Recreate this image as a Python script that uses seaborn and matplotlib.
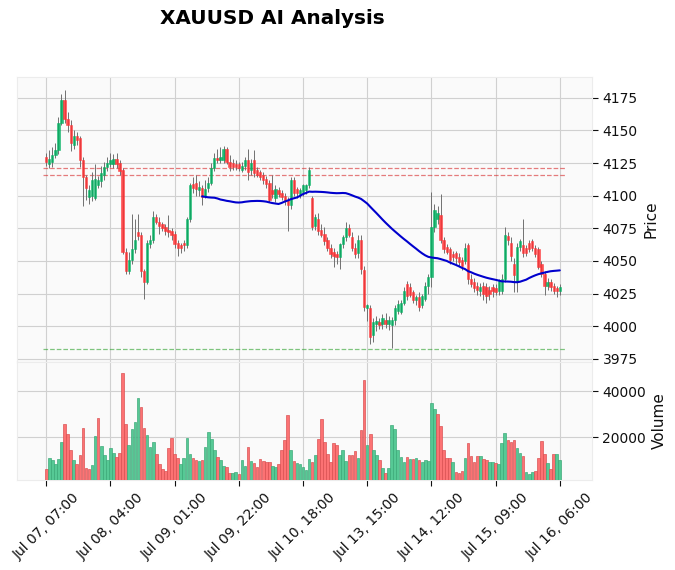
import numpy as np
import pandas as pd
import matplotlib
matplotlib.use("Agg")
import matplotlib.pyplot as plt
from matplotlib.ticker import MultipleLocator
import seaborn as sns

# XAUUSD hourly candles
opens = [4130, 4124, 4126, 4131, 4135, 4156, 4173, 4159, 4154, 4139,
         4146, 4144, 4127, 4114, 4099, 4100, 4098, 4108, 4111, 4116,
         4122, 4124, 4124, 4128, 4125, 4120, 4057, 4042, 4051, 4059,
         4072, 4070, 4042, 4034, 4063, 4066, 4084, 4080, 4078, 4076,
         4074, 4073, 4071, 4064, 4062, 4064, 4062, 4082, 4109, 4110,
         4104, 4106, 4100, 4106, 4110, 4121, 4129, 4127, 4127, 4136,
         4126, 4125, 4124, 4124, 4120, 4123, 4127, 4120, 4127, 4120,
         4118, 4116, 4113, 4110, 4104, 4098, 4104, 4102, 4100, 4097,
         4093, 4112, 4105, 4101, 4103, 4104, 4108, 4098, 4077, 4082,
         4074, 4071, 4066, 4060, 4057, 4055, 4053, 4063, 4068, 4075,
         4068, 4060, 4056, 4066, 4043, 4014, 4014, 3993, 4002, 4003,
         4002, 4005, 4002, 4001, 4005, 4012, 4011, 4018, 4032, 4030,
         4026, 4020, 4022, 4016, 4021, 4031, 4038, 4076, 4082, 4085,
         4066, 4061, 4059, 4055, 4056, 4053, 4051, 4050, 4062, 4036,
         4034, 4031, 4027, 4031, 4030, 4028, 4030, 4029, 4027, 4027,
         4036, 4069, 4064, 4048, 4034, 4061, 4062, 4060, 4064, 4065,
         4060, 4059, 4048, 4040, 4031, 4034, 4031, 4029, 4027]
highs = [4133, 4135, 4137, 4140, 4160, 4178, 4181, 4164, 4158, 4150,
         4149, 4146, 4130, 4116, 4108, 4118, 4124, 4115, 4123, 4126,
         4130, 4133, 4132, 4133, 4127, 4121, 4060, 4057, 4086, 4082,
         4086, 4072, 4044, 4066, 4070, 4088, 4086, 4084, 4080, 4078,
         4085, 4075, 4073, 4066, 4064, 4066, 4084, 4110, 4114, 4116,
         4111, 4108, 4112, 4114, 4125, 4133, 4136, 4137, 4138, 4137,
         4131, 4128, 4127, 4126, 4126, 4130, 4136, 4128, 4135, 4122,
         4120, 4118, 4115, 4112, 4116, 4108, 4107, 4104, 4102, 4099,
         4114, 4114, 4107, 4106, 4109, 4109, 4122, 4100, 4086, 4087,
         4078, 4076, 4068, 4063, 4060, 4058, 4064, 4070, 4080, 4078,
         4072, 4064, 4070, 4070, 4046, 4017, 4016, 4006, 4008, 4006,
         4009, 4010, 4008, 4007, 4016, 4020, 4020, 4030, 4035, 4033,
         4028, 4024, 4026, 4025, 4034, 4040, 4103, 4094, 4092, 4101,
         4068, 4063, 4061, 4058, 4058, 4056, 4053, 4064, 4064, 4040,
         4037, 4034, 4033, 4034, 4033, 4031, 4032, 4032, 4036, 4040,
         4076, 4072, 4068, 4052, 4064, 4067, 4082, 4062, 4066, 4067,
         4062, 4061, 4050, 4042, 4037, 4036, 4033, 4031, 4032]
lows = [4123, 4121, 4122, 4129, 4132, 4154, 4156, 4149, 4134, 4136,
        4139, 4122, 4092, 4097, 4094, 4096, 4097, 4106, 4107, 4112,
        4119, 4122, 4121, 4121, 4116, 4055, 4040, 4040, 4048, 4056,
        4066, 4038, 4021, 4032, 4060, 4064, 4078, 4071, 4073, 4070,
        4068, 4066, 4060, 4054, 4056, 4058, 4060, 4080, 4102, 4100,
        4100, 4093, 4098, 4103, 4108, 4119, 4125, 4125, 4125, 4124,
        4119, 4120, 4120, 4119, 4118, 4120, 4112, 4116, 4114, 4114,
        4112, 4109, 4106, 4095, 4098, 4095, 4099, 4097, 4093, 4073,
        4090, 4100, 4098, 4098, 4100, 4101, 4106, 4074, 4074, 4070,
        4068, 4062, 4058, 4052, 4045, 4048, 4044, 4060, 4065, 4068,
        4058, 4052, 4052, 4040, 4012, 4004, 3986, 3988, 3996, 3998,
        3998, 3999, 3997, 3983, 4001, 4009, 4009, 4016, 4020, 4022,
        4018, 4016, 4012, 4014, 4019, 4025, 4030, 4072, 4078, 4064,
        4056, 4055, 4048, 4050, 4048, 4046, 4043, 4048, 4032, 4030,
        4026, 4024, 4023, 4020, 4018, 4020, 4022, 4024, 4024, 4025,
        4034, 4062, 4050, 4026, 4026, 4058, 4053, 4054, 4057, 4058,
        4053, 4044, 4038, 4024, 4028, 4027, 4025, 4022, 4024]
closes = [4126, 4128, 4131, 4135, 4156, 4173, 4159, 4154, 4140, 4146,
          4143, 4127, 4114, 4106, 4104, 4112, 4113, 4112, 4117, 4122,
          4125, 4127, 4128, 4124, 4119, 4057, 4042, 4051, 4059, 4066,
          4069, 4042, 4034, 4064, 4066, 4084, 4080, 4077, 4075, 4073,
          4072, 4070, 4063, 4060, 4060, 4062, 4082, 4108, 4106, 4105,
          4107, 4099, 4105, 4110, 4121, 4129, 4127, 4130, 4136, 4126,
          4122, 4122, 4122, 4121, 4123, 4127, 4118, 4125, 4117, 4116,
          4114, 4112, 4109, 4097, 4101, 4105, 4101, 4099, 4096, 4093,
          4112, 4102, 4102, 4104, 4108, 4108, 4120, 4076, 4084, 4073,
          4070, 4065, 4060, 4055, 4054, 4053, 4063, 4068, 4075, 4070,
          4060, 4055, 4066, 4044, 4015, 4016, 3992, 4003, 4004, 4001,
          4006, 4002, 4005, 4005, 4014, 4017, 4018, 4027, 4023, 4024,
          4020, 4022, 4015, 4023, 4031, 4038, 4076, 4089, 4087, 4066,
          4059, 4057, 4051, 4053, 4052, 4049, 4046, 4060, 4036, 4032,
          4029, 4028, 4030, 4025, 4023, 4025, 4027, 4026, 4035, 4036,
          4070, 4066, 4054, 4039, 4061, 4065, 4056, 4056, 4059, 4060,
          4055, 4045, 4040, 4031, 4034, 4030, 4027, 4027, 4030]
volumes = [6100, 11000, 9800, 8000, 10500, 17800, 25800, 21200, 14200, 9800,
           8300, 12300, 23800, 6500, 6000, 7800, 20400, 28300, 16000, 12300,
           10100, 15000, 13200, 11300, 13000, 48000, 25800, 16400, 23500, 26600,
           37000, 33000, 24000, 21000, 15500, 17800, 12700, 8000, 6000, 5000,
           15000, 19500, 12700, 11000, 8000, 11000, 19500, 12700, 11000, 9800,
           9500, 9800, 15600, 22000, 19000, 14200, 11300, 9800, 7400, 7100,
           4400, 4400, 4900, 4000, 9800, 7500, 15600, 9700, 8700, 6800,
           10500, 9700, 9100, 9100, 7300, 6800, 8100, 14300, 18800, 29500,
           14300, 9400, 8500, 8300, 6800, 5600, 10400, 9100, 12000, 19300,
           28000, 17800, 12600, 9100, 17200, 16300, 12300, 14300, 9700, 12300,
           12300, 13800, 11000, 23100, 44900, 16400, 21200, 14200, 12300, 9800,
           6500, 4300, 6500, 25300, 23600, 14300, 11300, 9000, 11300, 10500,
           10500, 10900, 10100, 9100, 10100, 9500, 34900, 32400, 30100, 24900,
           14300, 10800, 10800, 9000, 4900, 4300, 5300, 11000, 17200, 11500,
           9000, 11700, 11700, 10500, 10100, 9000, 9000, 8600, 8000, 17500,
           21600, 18500, 17800, 18500, 15200, 13200, 11700, 4700, 4000, 4500,
           5000, 10800, 18100, 12600, 8600, 5900, 12600, 12600, 10100]

tick_pos = [0, 21, 42, 63, 84, 105, 126, 147, 168]
tick_labels = ["Jul 07, 07:00", "Jul 08, 04:00", "Jul 09, 01:00", "Jul 09, 22:00",
               "Jul 10, 18:00", "Jul 13, 15:00", "Jul 14, 12:00", "Jul 15, 09:00",
               "Jul 16, 06:00"]
resistance_levels = [4121.2, 4115.9]
support_levels = [3982.5]
MA_WINDOW = 52

UP, DOWN = "#00b060", "#fe3032"
VOL_UP, VOL_DOWN = "#4dc790", "#fd6b6c"
VOL_UP_EDGE, VOL_DOWN_EDGE = "#3aa877", "#d94f50"
TEXT = "#101010"

sns.set_style("whitegrid", {"axes.facecolor": "#fafafa", "grid.color": "#d0d0d0",
                            "axes.edgecolor": "#ececec"})
plt.rcParams['font.family'] = ['DejaVu Sans']

df = pd.DataFrame({"open": opens, "high": highs, "low": lows,
                   "close": closes, "volume": volumes})
df["idx"] = np.arange(len(df))
df["ma"] = df["close"].rolling(MA_WINDOW).mean()

fig = plt.figure(figsize=(6.75, 5.70), dpi=100)
ax = fig.add_axes([0.0252, 0.3649, 0.8519, 0.5])
axv = fig.add_axes([0.0252, 0.1579, 0.8519, 0.207], sharex=ax)

# candles
up = df["close"] >= df["open"]
body_colors = np.where(up, UP, DOWN)
ax.vlines(df["idx"], df["low"], df["high"], color="#707070", linewidth=0.7, zorder=2)
body_bottom = df[["open", "close"]].min(axis=1)
body_height = (df["close"] - df["open"]).abs().clip(lower=0.3)
ax.bar(df["idx"], body_height, bottom=body_bottom, width=0.75, color=body_colors,
       edgecolor=body_colors, linewidth=0.4, alpha=0.85, zorder=3)

# moving average
sns.lineplot(data=df, x="idx", y="ma", ax=ax, color="#0000cd", linewidth=1.5, zorder=4)

# support / resistance
n = len(df)
for lvl in resistance_levels:
    ax.hlines(lvl, -1, n + 1, colors="#d62728", linestyles="--", linewidth=0.9, alpha=0.6, zorder=1.5)
for lvl in support_levels:
    ax.hlines(lvl, -1, n + 1, colors="#2ca02c", linestyles="--", linewidth=0.9, alpha=0.6, zorder=1.5)

# volume, coloured by close vs previous close
prev_close = df["close"].shift(1).fillna(df["open"])
vol_up = df["close"] >= prev_close
axv.bar(df["idx"], df["volume"], width=0.85,
        color=np.where(vol_up, VOL_UP, VOL_DOWN),
        edgecolor=np.where(vol_up, VOL_UP_EDGE, VOL_DOWN_EDGE),
        linewidth=0.5, alpha=0.95, zorder=3)
axv.set_ylim(0.3 * df["volume"].min(), 1.1 * df["volume"].max())

ax.set_xlim(-1 - 0.05 * (n + 2), n + 1 + 0.05 * (n + 2))
ax.yaxis.set_major_locator(MultipleLocator(25))
axv.yaxis.set_major_locator(MultipleLocator(20000))

for a in (ax, axv):
    a.yaxis.tick_right()
    a.yaxis.set_label_position("right")
    a.tick_params(axis="y", right=True, left=False, length=4, width=0.8,
                  color=TEXT, labelcolor=TEXT, labelsize=10)
    a.grid(True, color="#d0d0d0", linewidth=0.8)
    for s in a.spines.values():
        s.set_color("#ececec")

ax.set_xticks(tick_pos)
ax.tick_params(axis="x", bottom=False, labelbottom=False)
axv.set_xticks(tick_pos)
axv.set_xticklabels(tick_labels)
axv.tick_params(axis="x", bottom=True, length=4, width=0.8, color=TEXT,
                labelcolor=TEXT, labelsize=10, rotation=45)

ax.set_xlabel("")
axv.set_xlabel("")
ax.set_ylabel("Price", fontsize=11, color=TEXT)
axv.set_ylabel("Volume", fontsize=11, color=TEXT)

fig.text(0.403, 0.968, "XAUUSD AI Analysis", ha="center", va="center",
         fontsize=14.4, fontweight="bold", color="black")

fig.savefig("out.png", dpi=100)
